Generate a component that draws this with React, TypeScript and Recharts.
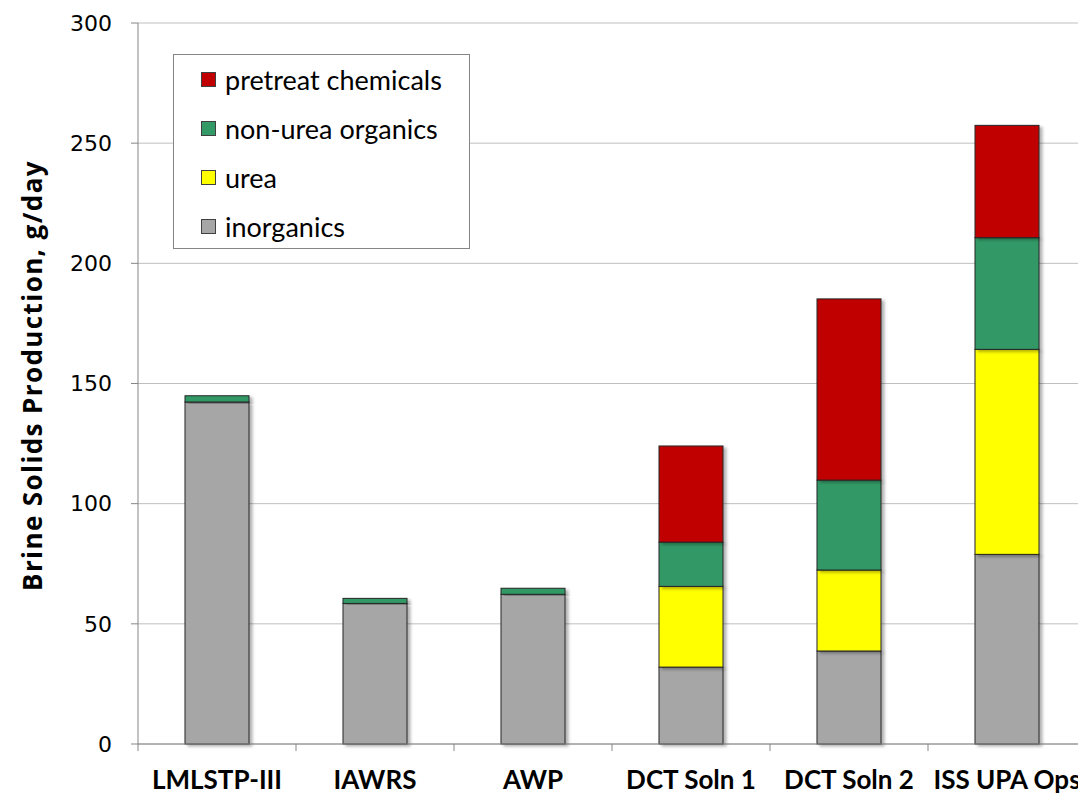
import React from "react";
import {
  BarChart, Bar, XAxis, YAxis, CartesianGrid, Legend
} from "recharts";

const categories = ["LMLSTP-III", "IAWRS", "AWP", "DCT Soln 1", "DCT Soln 2", "ISS UPA Ops"];
const inorganics = [142.3, 58.5, 62.3, 32.0, 38.7, 78.9];
const urea = [0, 0, 0, 33.6, 33.7, 85.3];
const nonUreaOrganics = [2.6, 2.1, 2.5, 18.4, 37.4, 46.5];
const pretreatChemicals = [0, 0, 0, 40.0, 75.4, 46.7];
const yTicks = [0, 50, 100, 150, 200, 250, 300];

const seriesInfo = [
  { key: "pretreat", name: "pretreat chemicals", color: "#C00000" },
  { key: "organics", name: "non-urea organics", color: "#339966" },
  { key: "urea", name: "urea", color: "#FFFF00" },
  { key: "inorganics", name: "inorganics", color: "#A6A6A6" },
];

const chartData = categories.map((name, i) => ({
  name,
  inorganics: inorganics[i],
  urea: urea[i],
  organics: nonUreaOrganics[i],
  pretreat: pretreatChemicals[i],
}));

const PLOT_LEFT = 138;
const PLOT_WIDTH = 948;
const BAND = PLOT_WIDTH / categories.length;

// bar segment with a little drop shadow, skipped when empty
const Segment = (props: any) => {
  const { x, y, width, height, fill } = props;
  if (!height || height <= 0) return <g />;
  return (
    <rect x={x} y={y} width={width} height={height} fill={fill}
      stroke="#262626" strokeWidth={1} filter="url(#barShadow)" />
  );
};

const CategoryTick = (props: any) => {
  const { x, y, payload } = props;
  const left = x - BAND / 2;
  return (
    <g>
      <line x1={left} x2={left} y1={y} y2={y + 7} stroke="#868686" />
      <text x={x} y={y + 45} textAnchor="middle" fill="#000"
        style={{ fontFamily: "Lato, sans-serif", fontWeight: 700, fontSize: 26 }}>
        {payload.value}
      </text>
    </g>
  );
};

const YLabel = (props: any) => {
  const vb = props.viewBox || {};
  const cy = (vb.y ?? 23) + (vb.height ?? 721) / 2 - 8;
  return (
    <text transform={`translate(42, ${cy}) rotate(-90)`} textAnchor="middle" fill="#000"
      style={{ fontFamily: "'Open Sans', sans-serif", fontWeight: 700, fontSize: 26, letterSpacing: 1.4 }}>
      Brine Solids Production, g/day
    </text>
  );
};

const LegendBox = () => (
  <div style={{
    width: 297, height: 195, boxSizing: "border-box", border: "1px solid #868686",
    background: "#fff", padding: "0 0 0 27px",
    fontFamily: "Lato, sans-serif", fontSize: 27, color: "#000"
  }}>
    {seriesInfo.map((s) => (
      <div key={s.key} style={{ display: "flex", alignItems: "center", height: 49 }}>
        <span style={{
          display: "inline-block", width: 13, height: 13, background: s.color,
          border: "1px solid #404040", marginRight: 9
        }} />
        <span>{s.name}</span>
      </div>
    ))}
  </div>
);

export default function App() {
  return (
    <div style={{
      position: "absolute", left: 0, top: 0, width: 1078, height: 794,
      overflow: "hidden", background: "#fff"
    }}>
      <svg width={0} height={0} style={{ position: "absolute" }}>
        <defs>
          <filter id="barShadow" x="-20%" y="-20%" width="140%" height="140%">
            <feDropShadow dx={3} dy={2} stdDeviation={1.5} floodColor="#000" floodOpacity={0.3} />
          </filter>
        </defs>
      </svg>
      <BarChart width={PLOT_LEFT + PLOT_WIDTH + 4} height={794} data={chartData}
        margin={{ top: 23, right: 4, left: 0, bottom: 0 }}>
        <CartesianGrid vertical={false} stroke="#BFBFBF" />
        <XAxis dataKey="name" height={50} tickSize={0} tickMargin={0} interval={0}
          axisLine={{ stroke: "#868686" }} tickLine={false} tick={<CategoryTick />} />
        <YAxis width={PLOT_LEFT} domain={[0, 300]} ticks={yTicks} interval={0}
          tickSize={7} tickMargin={19}
          axisLine={{ stroke: "#868686" }} tickLine={{ stroke: "#868686" }}
          tick={{ fill: "#000", fontSize: 22, fontFamily: "'DejaVu Sans', sans-serif" }}
          label={{ content: <YLabel /> }} />
        <Legend layout="vertical" align="center" verticalAlign="middle"
          wrapperStyle={{ left: 173, top: 54, width: 297, height: 195 }}
          content={<LegendBox />} />
        <Bar dataKey="inorganics" name="inorganics" stackId="a" fill="#A6A6A6" barSize={64}
          shape={<Segment />} isAnimationActive={false} />
        <Bar dataKey="urea" name="urea" stackId="a" fill="#FFFF00" barSize={64}
          shape={<Segment />} isAnimationActive={false} />
        <Bar dataKey="organics" name="non-urea organics" stackId="a" fill="#339966" barSize={64}
          shape={<Segment />} isAnimationActive={false} />
        <Bar dataKey="pretreat" name="pretreat chemicals" stackId="a" fill="#C00000" barSize={64}
          shape={<Segment />} isAnimationActive={false} />
      </BarChart>
    </div>
  );
}
